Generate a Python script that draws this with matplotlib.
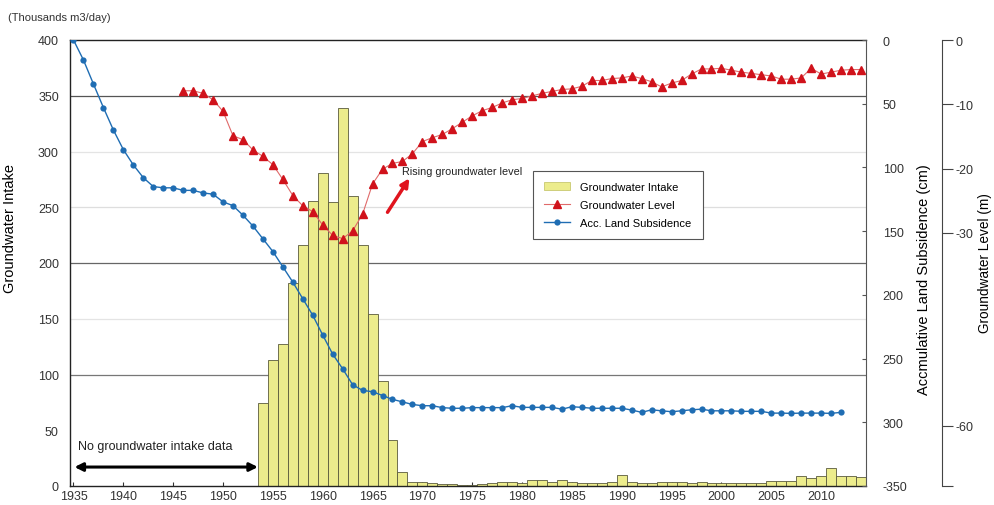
import matplotlib
matplotlib.use("Agg")
import matplotlib.pyplot as plt
import numpy as np
from matplotlib.lines import Line2D
from matplotlib.patches import Patch

plt.rcParams["font.family"] = ["Liberation Sans", "DejaVu Sans"]

# Groundwater intake (thousands m3/day), one bar per year
INTAKE_YEARS = np.arange(1954, 2015)
INTAKE = [74, 113, 127, 182, 216, 256, 281, 255, 339, 260, 216, 154, 94, 41, 13,
          3.5, 3.5, 2.5, 1.5, 1.5, 1, 0.5, 1.5, 2.5, 4, 4, 3, 5, 5, 4, 5.5, 4,
          3, 3, 3, 3.5, 9.5,
          4, 3, 3, 4, 4, 4, 3, 4, 3, 3, 3, 3, 3, 3, 4.5, 4.5, 4.5, 9, 7.5, 9,
          16, 9, 9, 8.5]

# Accumulative land subsidence (cm)
SUBS_YEARS = np.arange(1935, 2013)
SUBSIDENCE = [0, 15.7, 34.5, 53, 70.6, 86, 98, 108, 115, 116, 116, 118, 118, 120,
              121, 127, 130, 137.5, 146, 156, 166, 178, 190, 203, 216, 231.5,
              246.5, 258, 270.5, 275, 276, 279, 282, 284, 286, 287, 287, 288.5,
              289, 289, 288.5, 288.5, 288.5, 288.5, 287, 288.3, 288.3, 288.3,
              288.3, 289.7, 287.8, 288.3, 289, 289, 289, 289, 290.4, 292.2,
              290.2, 291, 291.7, 291, 290.2, 289.7, 291, 291, 291, 291.4, 291.4,
              291.4, 292.8, 292.8, 293, 292.8, 292.8, 292.8, 293, 292.2]

# Groundwater level (m)
LEVEL_YEARS = np.arange(1946, 2015)
LEVEL = [-7.9, -7.9, -8.3, -9.3, -11.1, -14.9, -15.5, -17.1, -18.1, -19.4,
         -21.7, -24.2, -25.8, -26.7, -28.8, -30.4, -30.9, -29.7, -27.1, -22.4,
         -20.1, -19.2, -18.9, -17.7, -15.8, -15.2, -14.7, -13.8, -12.8, -11.8,
         -11.0, -10.5, -9.8, -9.3, -9.1, -8.7, -8.3, -8.0, -7.7, -7.6, -7.2,
         -6.3, -6.3, -6.0, -5.9, -5.6, -6.0, -6.5, -7.3, -6.7, -6.3, -5.3,
         -4.5, -4.5, -4.4, -4.7, -5.0, -5.2, -5.4, -5.6, -6.1, -6.1, -5.9,
         -4.4, -5.3, -5.0, -4.7, -4.6, -4.6]

X_TICKS = np.arange(1935, 2011, 5)
INTAKE_TICKS = np.arange(0, 401, 50)
SUBS_TICKS = np.arange(0, 351, 50)
SUBS_LABELS = ["0", "50", "100", "150", "200", "250", "300", "-350"]
LEVEL_TICKS = [0, -10, -20, -30, -60, -69.4]
LEVEL_LABELS = ["0", "-10", "-20", "-30", "-60", ""]

BAR_COLOR = "#ecec8c"
RED = "#d0121b"
BLUE = "#1f6db3"

fig = plt.figure(figsize=(9.94, 5.06), dpi=100)
ax = fig.add_axes([70 / 994, 1 - 487 / 506, 796 / 994, 446 / 506])

# horizontal grid lines, alternating dark / light like the original
for v, c in [(350, "#555555"), (300, "#e4e4e4"), (250, "#dedede"),
             (200, "#666666"), (150, "#e4e4e4"), (100, "#777777")]:
    ax.axhline(v, color=c, lw=0.9, zorder=1)

ax.bar(INTAKE_YEARS, INTAKE, width=1.0, color=BAR_COLOR, edgecolor="#5a5a3c",
       linewidth=0.6, zorder=2)
ax.set_xlim(1934.65, 2014.5)
ax.set_ylim(0, 400)
ax.set_xticks(X_TICKS)
ax.set_yticks(INTAKE_TICKS)
ax.tick_params(axis="x", direction="in", length=3, labelsize=9, colors="#333333", pad=3)
ax.tick_params(axis="y", length=0, labelsize=9, labelcolor="#333333", pad=8)
for s in ["left", "top", "bottom"]:
    ax.spines[s].set_color("#222222")
    ax.spines[s].set_linewidth(1.0)
ax.spines["right"].set_visible(False)
ax.set_ylabel("Groundwater Intake", fontsize=10.5)
ax.yaxis.set_label_coords(-0.066, 0.58)
fig.text(8 / 994, 1 - 18 / 506, "(Thousands m3/day)", fontsize=8, va="center",
         color="#333333")

# annotations
ax.annotate("", xy=(1935.1, 17), xytext=(1953.5, 17),
            arrowprops=dict(arrowstyle="<|-|>", lw=2.2, color="black",
                            mutation_scale=12, shrinkA=0, shrinkB=0), zorder=5)
ax.text(1935.5, 36, "No groundwater intake data", fontsize=9, va="center",
        color="#222222")
ax.annotate("", xy=(1968.7, 276), xytext=(1966.5, 245.5),
            arrowprops=dict(arrowstyle="-|>", lw=2.5, color="#e0141e",
                            mutation_scale=12, shrinkA=0, shrinkB=0), zorder=5)
ax.text(1968.0, 282.5, "Rising groundwater level", fontsize=7.8, va="center",
        color="#222222", family=["Liberation Sans Narrow", "Liberation Sans"])

# accumulative land subsidence (right axis)
ax2 = ax.twinx()
ax2.plot(SUBS_YEARS, SUBSIDENCE, color=BLUE, lw=1.0, marker="o", ms=4.5,
         markeredgewidth=0, zorder=3)
ax2.set_ylim(350, 0)
ax2.set_yticks(SUBS_TICKS)
ax2.set_yticklabels(SUBS_LABELS)
ax2.tick_params(axis="y", direction="in", length=3, labelsize=9,
                colors="#555555", labelcolor="#333333", pad=12)
ax2.spines["right"].set_color("#555555")
for s in ["left", "top", "bottom"]:
    ax2.spines[s].set_visible(False)
ax2.set_ylabel("Accmulative Land Subsidence (cm)", fontsize=10.5)
ax2.yaxis.set_label_coords(1.064, 0.464)

# groundwater level (third axis)
ax3 = ax.twinx()
ax3.plot(LEVEL_YEARS, LEVEL, color="#e06a6a", lw=0.8, marker="^", ms=5.5,
         markerfacecolor=RED, markeredgecolor=RED, zorder=4)
ax3.set_ylim(-69.4, 0)
ax3.set_yticks(LEVEL_TICKS)
ax3.set_yticklabels(LEVEL_LABELS)
ax3.spines["right"].set_position(("axes", 1.0955))
ax3.spines["right"].set_color("#444444")
for s in ["left", "top", "bottom"]:
    ax3.spines[s].set_visible(False)
ax3.tick_params(axis="y", direction="out", length=8, labelsize=9,
                colors="#444444", labelcolor="#333333", pad=2)
ax3.set_ylabel("Groundwater Level (m)", fontsize=9.8)
ax3.yaxis.set_label_coords(1.141, 0.502)

handles = [
    Patch(facecolor=BAR_COLOR, edgecolor="#c8c870", lw=0.6),
    Line2D([], [], color="#e06a6a", lw=0.8, marker="^", ms=5.5,
           markerfacecolor=RED, markeredgecolor=RED),
    Line2D([], [], color=BLUE, lw=1.0, marker="o", ms=4.5, markeredgewidth=0),
]
labels = ["Groundwater Intake", "Groundwater Level", "Acc. Land Subsidence"]
leg = ax3.legend(handles, labels, loc="upper left",
                 bbox_to_anchor=(527 / 994, 1 - 166 / 506),
                 bbox_transform=fig.transFigure, fontsize=8, frameon=True,
                 fancybox=False, edgecolor="#555555", framealpha=1,
                 borderpad=1.0, labelspacing=0.75, handlelength=2.4,
                 handletextpad=0.9)
leg.get_frame().set_linewidth(0.8)

fig.savefig("out.png", dpi=100)
